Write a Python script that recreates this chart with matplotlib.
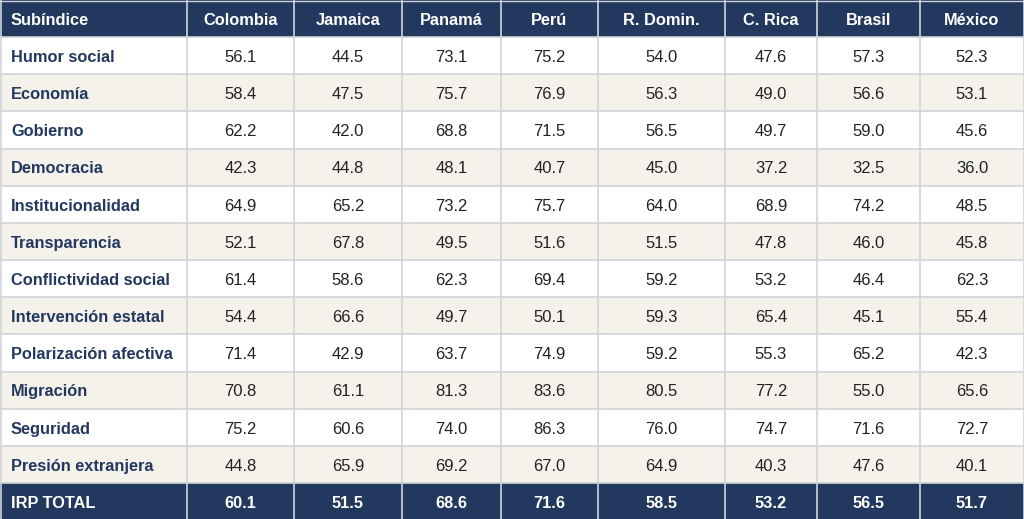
import matplotlib.pyplot as plt
from matplotlib.patches import Rectangle

plt.rcParams['font.family'] = ['Liberation Sans', 'DejaVu Sans']

# datos de la tabla
header = ['Subíndice', 'Colombia', 'Jamaica', 'Panamá', 'Perú', 'R. Domin.',
          'C. Rica', 'Brasil', 'México']
subindices = ['Humor social', 'Economía', 'Gobierno', 'Democracia',
              'Institucionalidad', 'Transparencia', 'Conflictividad social',
              'Intervención estatal', 'Polarización afectiva', 'Migración',
              'Seguridad', 'Presión extranjera']
colombia = [56.1, 58.4, 62.2, 42.3, 64.9, 52.1, 61.4, 54.4, 71.4, 70.8, 75.2, 44.8]
jamaica = [44.5, 47.5, 42.0, 44.8, 65.2, 67.8, 58.6, 66.6, 42.9, 61.1, 60.6, 65.9]
panama = [73.1, 75.7, 68.8, 48.1, 73.2, 49.5, 62.3, 49.7, 63.7, 81.3, 74.0, 69.2]
peru = [75.2, 76.9, 71.5, 40.7, 75.7, 51.6, 69.4, 50.1, 74.9, 83.6, 86.3, 67.0]
rdomin = [54.0, 56.3, 56.5, 45.0, 64.0, 51.5, 59.2, 59.3, 59.2, 80.5, 76.0, 64.9]
crica = [47.6, 49.0, 49.7, 37.2, 68.9, 47.8, 53.2, 65.4, 55.3, 77.2, 74.7, 40.3]
brasil = [57.3, 56.6, 59.0, 32.5, 74.2, 46.0, 46.4, 45.1, 65.2, 55.0, 71.6, 47.6]
mexico = [52.3, 53.1, 45.6, 36.0, 48.5, 45.8, 62.3, 55.4, 42.3, 65.6, 72.7, 40.1]
total_label = 'IRP TOTAL'
totales = [60.1, 51.5, 68.6, 71.6, 58.5, 53.2, 56.5, 51.7]

columnas = [colombia, jamaica, panama, peru, rdomin, crica, brasil, mexico]

NAVY = '#22385e'
BEIGE = '#f5f2ec'
GRID = '#d0d3d8'

# bordes de columnas en pixeles
xs = [0, 187, 294, 402, 501, 598, 725, 817, 920, 1024]
W, H = 1024, 519
nrows = len(subindices) + 2
rh = 37.15

fig = plt.figure(figsize=(10.24, 5.19), dpi=100)
ax = fig.add_axes([0, 0, 1, 1])
ax.set_xlim(0, W)
ax.set_ylim(H, 0)
ax.axis('off')

def fila(r, textos, bg, color, bold_vals):
    y0 = r * rh
    alto = rh if r < nrows - 1 else H - y0
    ax.add_patch(Rectangle((0, y0), W, alto, facecolor=bg, edgecolor='none'))
    yt = y0 + rh / 2 + 1.8
    for c, t in enumerate(textos):
        if c == 0:
            ax.text(xs[0] + 11, yt, t, ha='left', va='center',
                    fontsize=11.8, fontweight='bold', color=color)
        else:
            xc = (xs[c] + xs[c + 1]) / 2
            ax.text(xc, yt, t, ha='center', va='center',
                    fontsize=12 if not bold_vals else 11.8,
                    fontweight='bold' if bold_vals else 'normal',
                    color=color if bold_vals else '#222222')

# encabezado
fila(0, header, NAVY, 'white', True)

for i, nombre in enumerate(subindices):
    vals = [f'{col[i]:.1f}' for col in columnas]
    bg = 'white' if i % 2 == 0 else BEIGE
    fila(i + 1, [nombre] + vals, bg, NAVY, False)

fila(nrows - 1, [total_label] + [f'{v:.1f}' for v in totales], NAVY, 'white', True)

# lineas de la grilla
for r in range(1, nrows):
    y = r * rh
    ax.plot([0, W], [y, y], color=GRID, lw=1.2)
for x in xs[1:-1]:
    ax.plot([x, x], [0, H], color=GRID, lw=1.2)
ax.plot([0.5, 0.5], [0, H], color=GRID, lw=1.2)
ax.plot([W - 0.5, W - 0.5], [0, H], color=GRID, lw=1.2)
ax.plot([0, W], [0.5, 0.5], color=GRID, lw=1.0)

fig.savefig('out.png', dpi=100)
